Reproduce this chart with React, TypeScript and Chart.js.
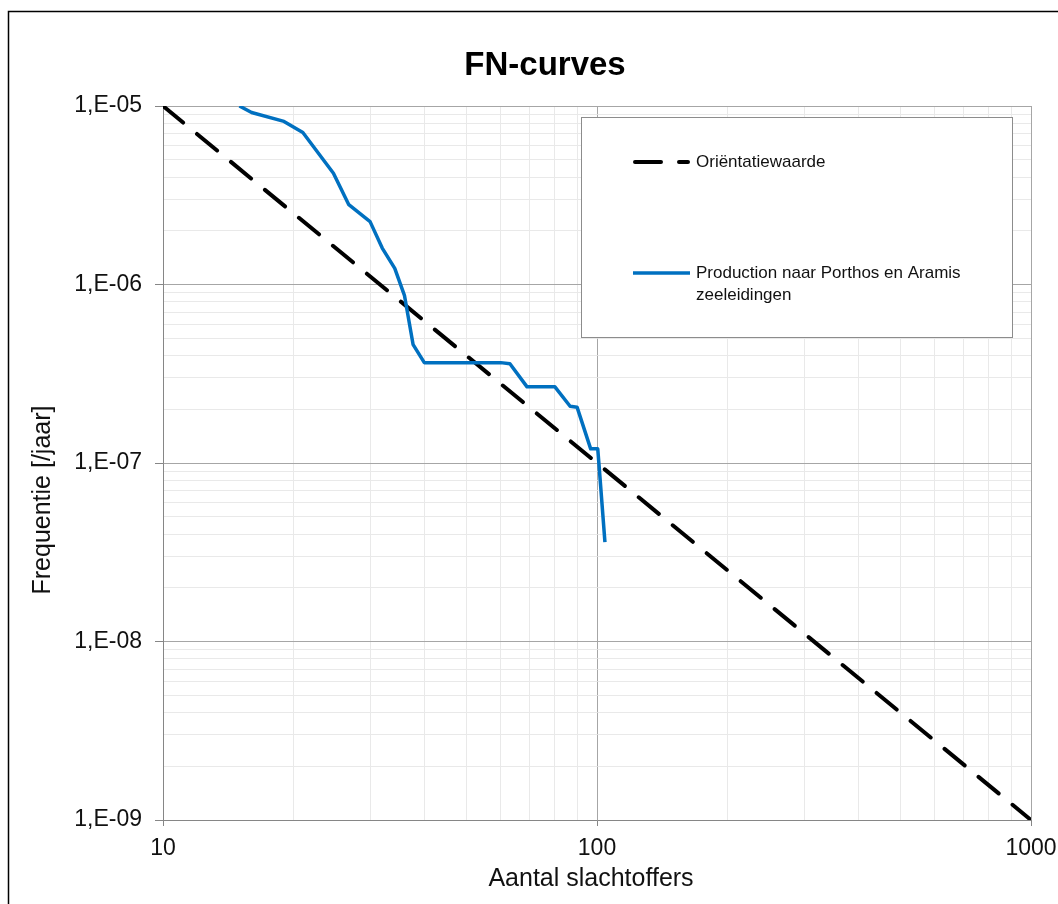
import React, { useEffect, useRef } from 'react';
import { Chart, registerables } from 'chart.js';

Chart.register(...registerables);

// ---- Data ----
const chartTitle = 'FN-curves';
const xAxisTitle = 'Aantal slachtoffers';
const yAxisTitle = 'Frequentie [/jaar]';

const guideLabel = 'Oriëntatiewaarde';
const guideN = [10, 1000];
const guideF = [1e-5, 1e-9];

const productionLabel = ['Production naar Porthos en Aramis', 'zeeleidingen'];
const productionN = [15, 16, 19, 21, 24.7, 26.8, 30, 32, 34.2, 36, 37.7, 40, 60, 63, 69, 80, 86.7, 90, 96.7, 100.4, 101, 104.3];
const productionF = [1.0e-5, 9.2e-6, 8.2e-6, 7.1e-6, 4.2e-6, 2.8e-6, 2.25e-6, 1.6e-6, 1.23e-6, 8.7e-7, 4.6e-7, 3.65e-7, 3.65e-7, 3.6e-7, 2.67e-7, 2.67e-7, 2.08e-7, 2.05e-7, 1.2e-7, 1.2e-7, 1.0e-7, 3.6e-8];

const xMajorTicks = [10, 100, 1000];
const xMajorLabels = ['10', '100', '1000'];
const yMajorTicks = [1e-9, 1e-8, 1e-7, 1e-6, 1e-5];
const yMajorLabels = ['1,E-09', '1,E-08', '1,E-07', '1,E-06', '1,E-05'];
const minorMultipliers = [2, 3, 4, 5, 6, 7, 8, 9];

const FONT = '"Liberation Sans", Arial, sans-serif';
const BLUE = '#0070C0';
const MAJOR_GRID = '#a6a6a6';
const MINOR_GRID = '#e9e9e9';
const AXIS_COLOR = '#868686';
const TEXT_COLOR = '#111111';

function withMinors(majors: number[]) {
  const out: number[] = [];
  majors.forEach((m, i) => {
    out.push(m);
    if (i < majors.length - 1) minorMultipliers.forEach((k) => out.push(m * k));
  });
  return out;
}

function isMajor(v: number) {
  const l = Math.log10(v);
  return Math.abs(l - Math.round(l)) < 1e-6;
}

function labelFor(v: number, values: number[], labels: string[]) {
  for (let i = 0; i < values.length; i++) {
    if (Math.abs(Math.log10(v) - Math.log10(values[i])) < 1e-6) return labels[i];
  }
  return '';
}

const decorPlugin = {
  id: 'decor',
  beforeDraw(chart: any) {
    const ctx = chart.ctx;
    ctx.save();
    ctx.fillStyle = '#ffffff';
    ctx.fillRect(0, 0, chart.width, chart.height);
    ctx.restore();
  },
  afterDraw(chart: any) {
    const ctx = chart.ctx;
    ctx.save();
    // outer frame
    ctx.strokeStyle = '#000000';
    ctx.lineWidth = 1.5;
    ctx.strokeRect(8.5, 11.5, 1080, 920);

    // title
    ctx.fillStyle = '#000000';
    ctx.font = `bold 33px ${FONT}`;
    ctx.textAlign = 'center';
    ctx.textBaseline = 'alphabetic';
    ctx.fillText(chartTitle, 545, 75);

    // x-axis title
    ctx.font = `25px ${FONT}`;
    ctx.fillStyle = TEXT_COLOR;
    ctx.textBaseline = 'middle';
    ctx.fillText(xAxisTitle, 591, 879);

    // y-axis title
    ctx.save();
    ctx.translate(43, 500);
    ctx.rotate(-Math.PI / 2);
    ctx.fillText(yAxisTitle, 0, 0);
    ctx.restore();

    // legend box
    const bx = 581.5, by = 117.5, bw = 431, bh = 220;
    ctx.fillStyle = '#ffffff';
    ctx.fillRect(bx, by, bw, bh);
    ctx.strokeStyle = '#8c8c8c';
    ctx.lineWidth = 1;
    ctx.strokeRect(bx, by, bw, bh);

    // legend entry 1: dashed black
    ctx.strokeStyle = '#000000';
    ctx.lineWidth = 4;
    ctx.lineCap = 'round';
    ctx.setLineDash([26, 18]);
    ctx.beginPath();
    ctx.moveTo(635, 162);
    ctx.lineTo(688, 162);
    ctx.stroke();
    ctx.setLineDash([]);
    ctx.lineCap = 'butt';

    ctx.fillStyle = TEXT_COLOR;
    ctx.font = `17px ${FONT}`;
    ctx.textAlign = 'left';
    ctx.textBaseline = 'middle';
    ctx.fillText(guideLabel, 696, 162);

    // legend entry 2: blue solid
    ctx.strokeStyle = BLUE;
    ctx.lineWidth = 3.5;
    ctx.beginPath();
    ctx.moveTo(633, 273);
    ctx.lineTo(690, 273);
    ctx.stroke();
    ctx.fillText(productionLabel[0], 696, 273);
    ctx.fillText(productionLabel[1], 696, 295);

    ctx.restore();
  },
};

export default function App() {
  const ref = useRef<HTMLCanvasElement | null>(null);

  useEffect(() => {
    if (!ref.current) return;
    const xTicks = withMinors(xMajorTicks);
    const yTicks = withMinors(yMajorTicks);

    const chart = new Chart(ref.current, {
      type: 'line',
      data: {
        datasets: [
          {
            label: productionLabel.join(' '),
            data: productionN.map((n, i) => ({ x: n, y: productionF[i] })),
            borderColor: BLUE,
            borderWidth: 3.5,
            pointRadius: 0,
            tension: 0,
            fill: false,
            borderJoinStyle: 'round',
          },
          {
            label: guideLabel,
            data: guideN.map((n, i) => ({ x: n, y: guideF[i] })),
            borderColor: '#000000',
            borderWidth: 4,
            borderDash: [26, 18],
            borderCapStyle: 'round',
            pointRadius: 0,
            tension: 0,
            fill: false,
          },
        ],
      },
      options: {
        responsive: false,
        animation: false,
        devicePixelRatio: 1,
        layout: { padding: { top: 106, right: 27, left: 0, bottom: 0 } },
        plugins: {
          legend: { display: false },
          title: { display: false },
          tooltip: { enabled: false },
        },
        scales: {
          x: {
            type: 'logarithmic',
            min: 10,
            max: 1000,
            afterBuildTicks: (s: any) => {
              s.ticks = xTicks.map((v) => ({ value: v }));
            },
            afterFit: (s: any) => {
              s.height = 84;
              s.paddingLeft = 0;
              s.paddingRight = 0;
            },
            ticks: {
              autoSkip: false,
              maxRotation: 0,
              minRotation: 0,
              padding: 9,
              color: TEXT_COLOR,
              font: { family: FONT, size: 23 },
              callback: (v: any) => labelFor(Number(v), xMajorTicks, xMajorLabels),
            },
            grid: {
              color: (c: any) => (c.tick && isMajor(c.tick.value) ? MAJOR_GRID : MINOR_GRID),
              tickColor: (c: any) => (c.tick && isMajor(c.tick.value) ? AXIS_COLOR : 'rgba(0,0,0,0)'),
              tickLength: 6,
              lineWidth: 1,
            },
            border: { color: AXIS_COLOR, width: 1 },
          },
          y: {
            type: 'logarithmic',
            min: 1e-9,
            max: 1e-5,
            afterBuildTicks: (s: any) => {
              s.ticks = yTicks.map((v) => ({ value: v }));
            },
            afterFit: (s: any) => {
              s.width = 163;
              s.paddingTop = 0;
              s.paddingBottom = 0;
            },
            ticks: {
              autoSkip: false,
              padding: 13,
              color: TEXT_COLOR,
              font: { family: FONT, size: 23 },
              callback: (v: any) => labelFor(Number(v), yMajorTicks, yMajorLabels),
            },
            grid: {
              color: (c: any) => (c.tick && isMajor(c.tick.value) ? MAJOR_GRID : MINOR_GRID),
              tickColor: (c: any) => (c.tick && isMajor(c.tick.value) ? AXIS_COLOR : 'rgba(0,0,0,0)'),
              tickLength: 8,
              lineWidth: 1,
            },
            border: { color: AXIS_COLOR, width: 1 },
          },
        },
      },
      plugins: [decorPlugin],
    } as any);

    return () => chart.destroy();
  }, []);

  return (
    <div style={{ position: 'absolute', left: 0, top: 0, width: 1058, height: 904 }}>
      <canvas ref={ref} width={1058} height={904} style={{ width: 1058, height: 904, display: 'block' }} />
    </div>
  );
}
